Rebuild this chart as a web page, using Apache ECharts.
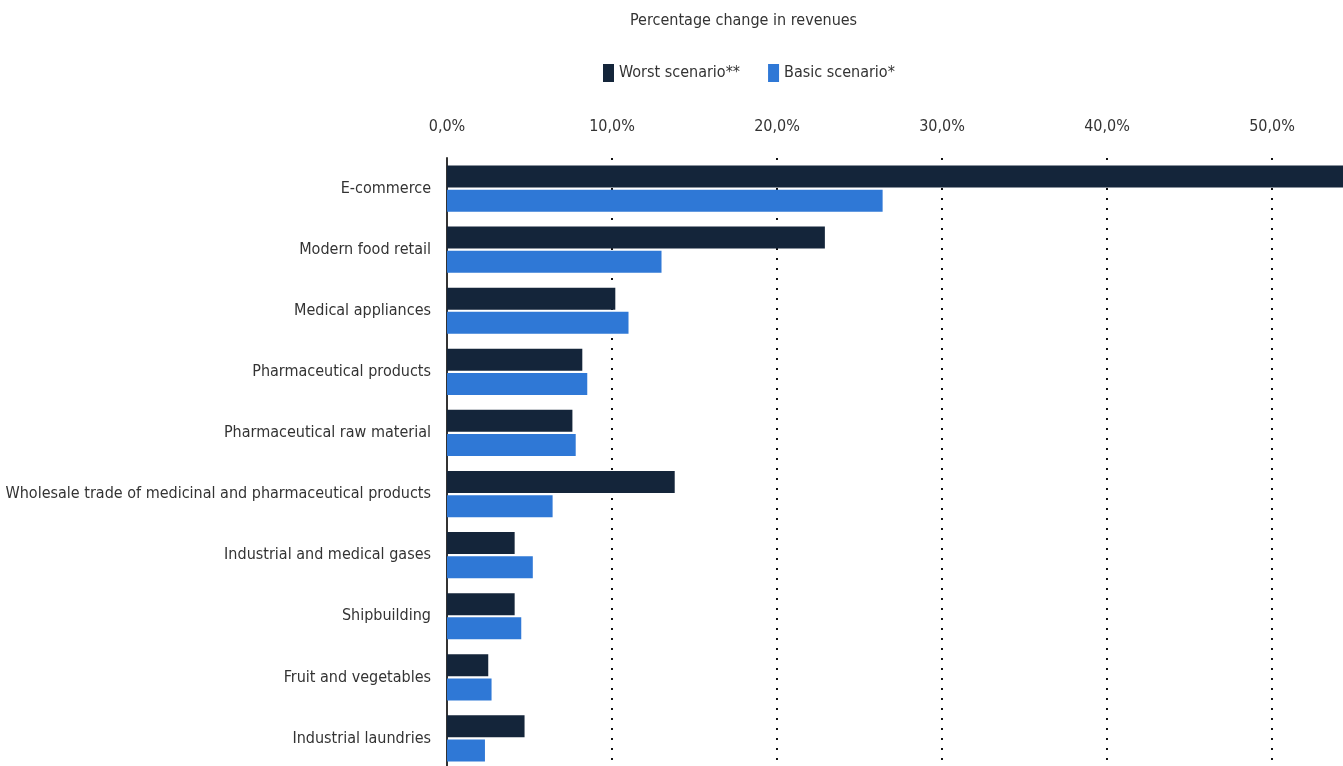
<!DOCTYPE html>
<html><head><meta charset="utf-8">
<script src="https://cdn.jsdelivr.net/npm/echarts@6/dist/echarts.min.js"></script>
<style>html,body{margin:0;padding:0;background:#fff}#c{width:1343px;height:766px}</style>
</head><body><div id="c"></div>
<script>
const categories = ["E-commerce","Modern food retail","Medical appliances","Pharmaceutical products","Pharmaceutical raw material","Wholesale trade of medicinal and pharmaceutical products","Industrial and medical gases","Shipbuilding","Fruit and vegetables","Industrial laundries"];
const worstScenario = [56.0, 22.9, 10.2, 8.2, 7.6, 13.8, 4.1, 4.1, 2.5, 4.7];
const basicScenario = [26.4, 13.0, 11.0, 8.5, 7.8, 6.4, 5.2, 4.5, 2.7, 2.3];
const seriesNames = ["Worst scenario**", "Basic scenario*"];
const titleText = "Percentage change in revenues";

const FONT = "'Liberation Sans Narrow','DejaVu Sans Condensed','Open Sans',sans-serif";
const chart = echarts.init(document.getElementById('c'));
chart.setOption({
  animation: false,
  title: {text: titleText, left: 625, top: 8, textStyle: {fontFamily: FONT, fontSize: 16, fontWeight: 'normal', color: '#333'}},
  legend: {top: 59, left: 598, itemWidth: 11, itemHeight: 18, itemGap: 28, icon: 'rect',
    textStyle: {fontFamily: FONT, fontSize: 16, color: '#333'}, data: seriesNames},
  grid: {left: 447, right: 0, top: 158, height: 611, containLabel: false, outerBoundsMode: 'none'},
  xAxis: {type: 'value', position: 'top', min: 0, max: 54.3, interval: 10,
    axisLine: {show: false}, axisTick: {show: false},
    axisLabel: {fontFamily: FONT, fontSize: 16, color: '#333', margin: 23,
      formatter: v => (Math.abs(v % 10) < 1e-6 ? v.toFixed(1).replace('.', ',') + '%' : '')},
    splitLine: {show: true, showMinLine: false, showMaxLine: false, lineStyle: {color: '#111', width: 2, type: [2, 8]}}},
  yAxis: {type: 'category', data: categories, inverse: true,
    axisLine: {show: true, lineStyle: {color: '#333', width: 2}}, axisTick: {show: false},
    axisLabel: {fontFamily: FONT, fontSize: 16, color: '#333', margin: 16}},
  series: [
    {name: seriesNames[0], type: 'bar', data: worstScenario, barWidth: 22, barGap: '10%', itemStyle: {color: '#14253a'}},
    {name: seriesNames[1], type: 'bar', data: basicScenario, barWidth: 22, barGap: '10%', itemStyle: {color: '#2f78d6'}}
  ]
});
</script></body></html>
